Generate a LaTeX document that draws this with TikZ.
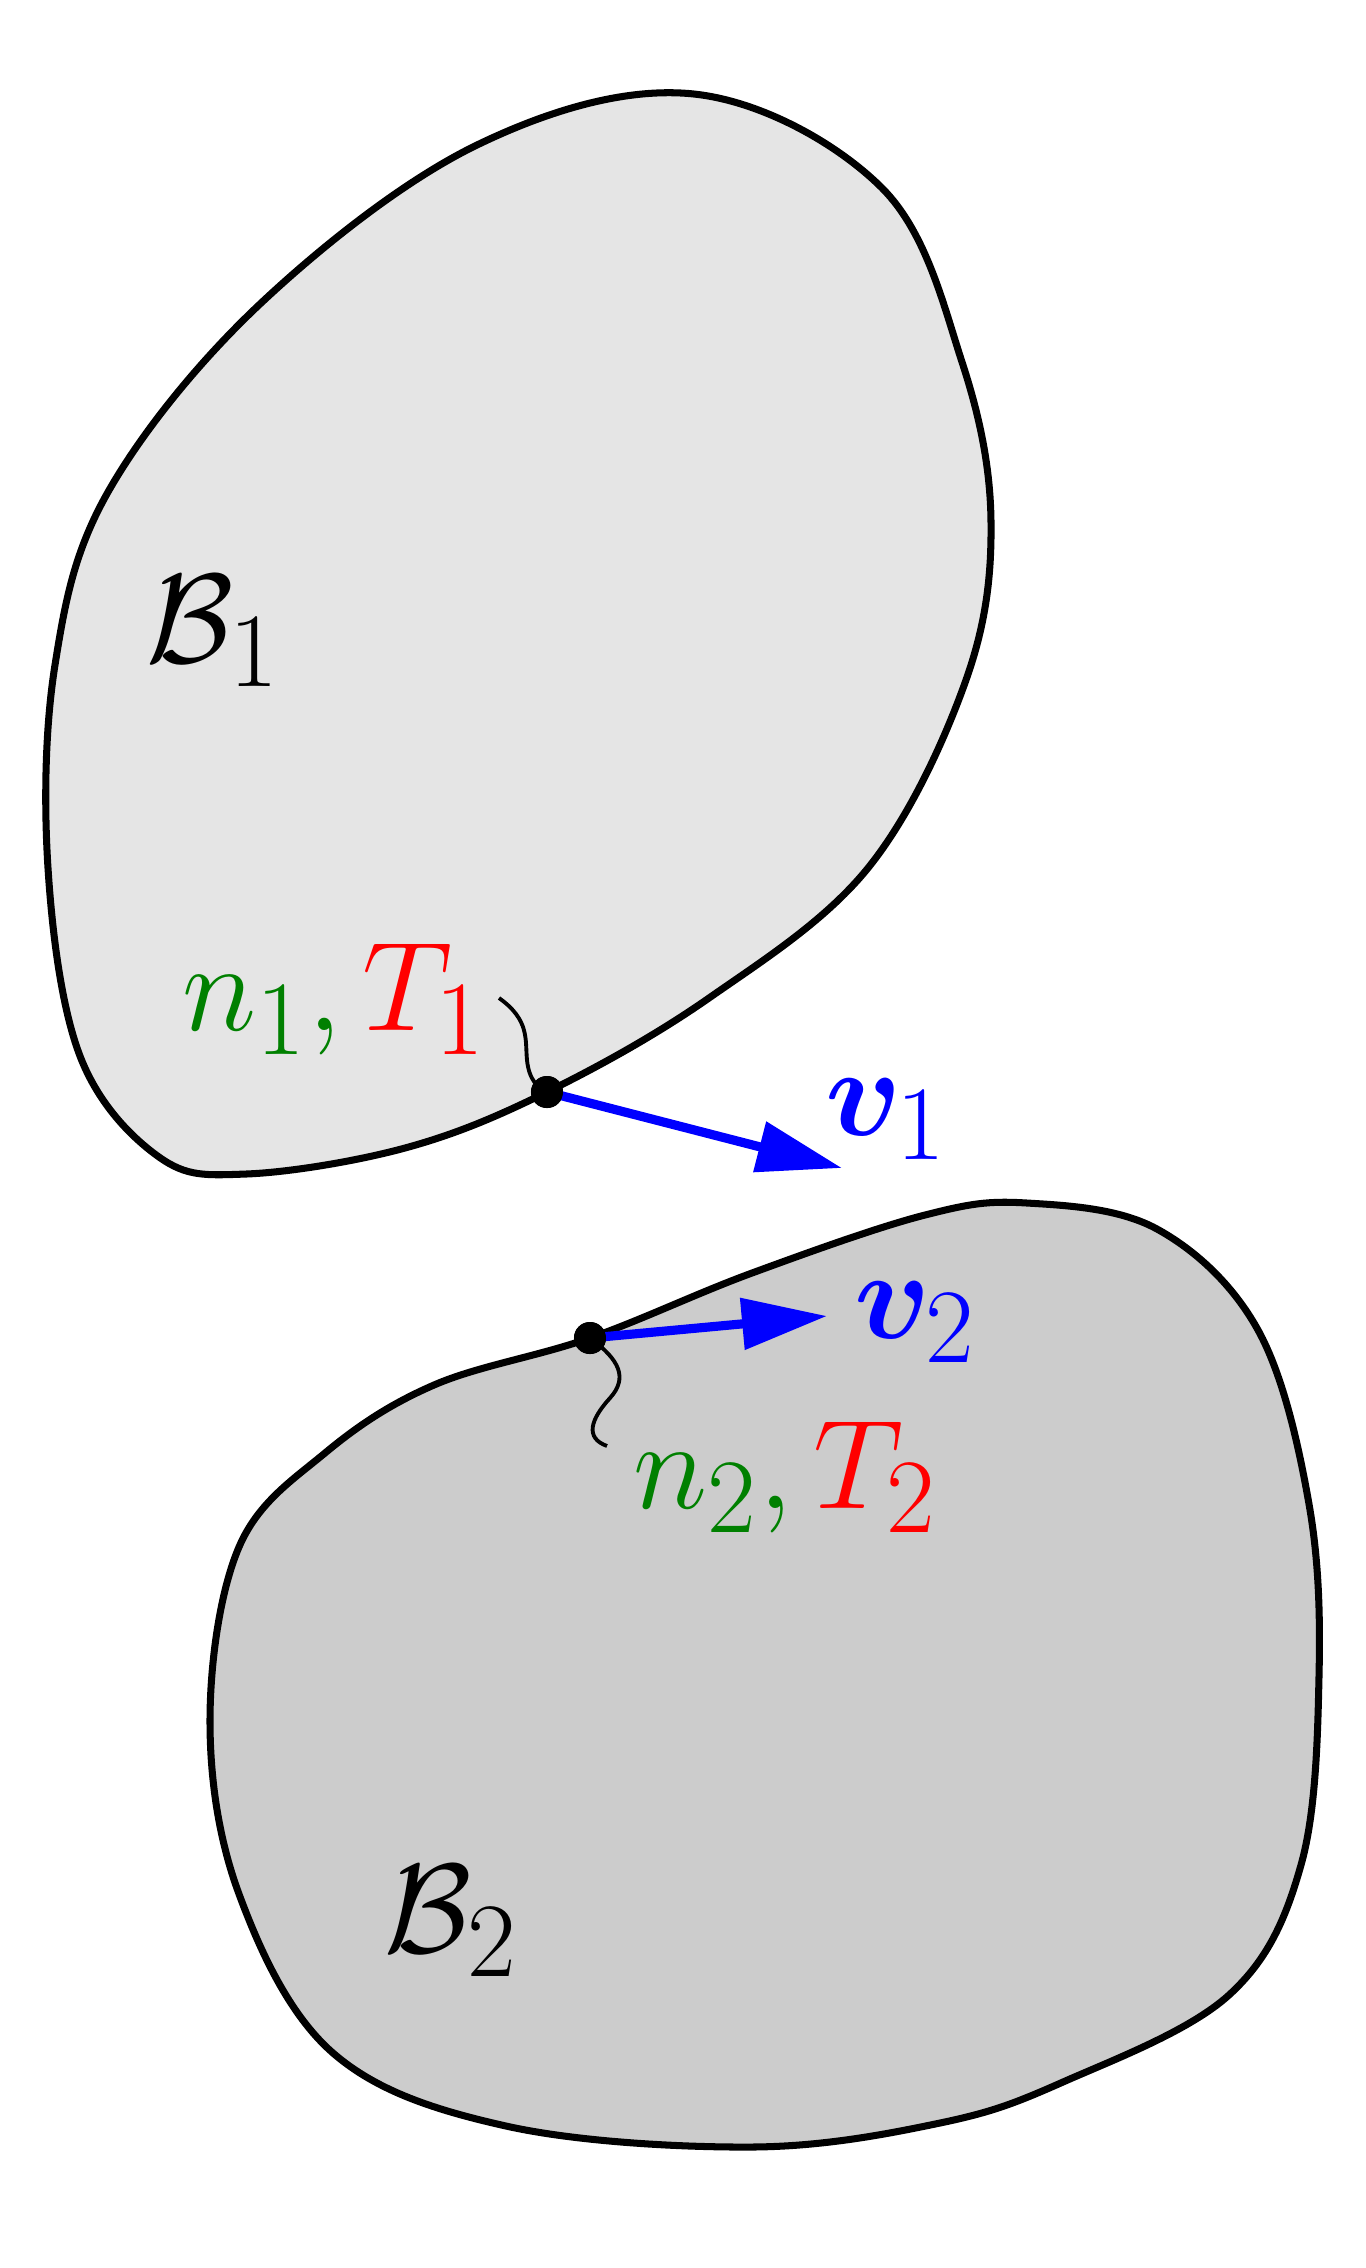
\documentclass[tikz,border=0pt]{standalone}
\usepackage{amsmath,bm}
\usetikzlibrary{arrows.meta}
\definecolor{dkgreen}{RGB}{0,128,0}
\definecolor{bodyA}{RGB}{229,229,229}
\definecolor{bodyB}{RGB}{204,204,204}
\begin{document}
\begin{tikzpicture}[x=0.01cm,y=-0.01cm,
  outline/.style={draw=black,line width=2pt,line join=round},
  lbl/.style={inner sep=0pt,anchor=base west,font=\Huge,scale=1.45},
  pdot/.style={circle,fill=black,inner sep=0pt,minimum size=0.32cm},
  vel/.style={draw=blue,line width=2.6pt,-{Triangle[length=0.85cm,width=0.5cm]}},
  pointer/.style={draw=black,line width=1.1pt}]
\useasboundingbox (0,0) rectangle (1365,2268);
% body 1
\draw[outline,fill=bodyA] plot[smooth cycle,tension=0.6] coordinates {
 (547,1092) (709,998) (868,868) (966,680) (991,521) (962,362) (882,188)
 (694,94) (477,145) (260,304) (108,492) (55,665) (48,868) (80,1056)
 (159,1157) (246,1174) (405,1148)};
% body 2
\draw[outline,fill=bodyB] plot[smooth cycle,tension=0.6] coordinates {
 (590,1338) (752,1273) (925,1215) (1027,1203) (1157,1229) (1258,1330)
 (1309,1504) (1319,1677) (1301,1865) (1229,1995) (1063,2082) (940,2123)
 (752,2147) (506,2126) (333,2053) (239,1894) (210,1721) (239,1547)
 (325,1453) (434,1385)};
% labels
\node[lbl] (B1) at (145,662) {$\mathcal{B}_1$};
\node[lbl] (B2) at (383,1952) {$\mathcal{B}_2$};
\node[lbl] (nT1) at (181,1030) {$\color{dkgreen}n_1{,}\,\color{red}T_1$};
\node[lbl] (nT2) at (632,1508) {$\color{dkgreen}n_2{,}\,\color{red}T_2$};
\node[lbl,text=blue] (v1) at (824,1135) {$\bm{v}_1$};
\node[lbl,text=blue] (v2) at (853,1338) {$\bm{v}_2$};
% points
\node[pdot] (d1) at (547,1092) {};
\node[pdot] (d2) at (590,1338) {};
\coordinate (t1) at (842,1168);
\coordinate (t2) at (827,1316);
\coordinate (p1) at (499,998);
\coordinate (p2) at (607,1446);
\draw[vel] (d1.center) -- (t1);
\draw[vel] (d2.center) -- (t2);
\draw[pointer] (p1) .. controls (530,1020) and (525,1040) .. (527,1060)
  .. controls (529,1080) and (538,1088) .. (d1.center);
\draw[pointer] (d2.center) .. controls (620,1360) and (628,1378) .. (610,1398)
  .. controls (590,1420) and (585,1438) .. (p2);
\node[pdot] at (d1) {};
\node[pdot] at (d2) {};
\end{tikzpicture}
\end{document}
